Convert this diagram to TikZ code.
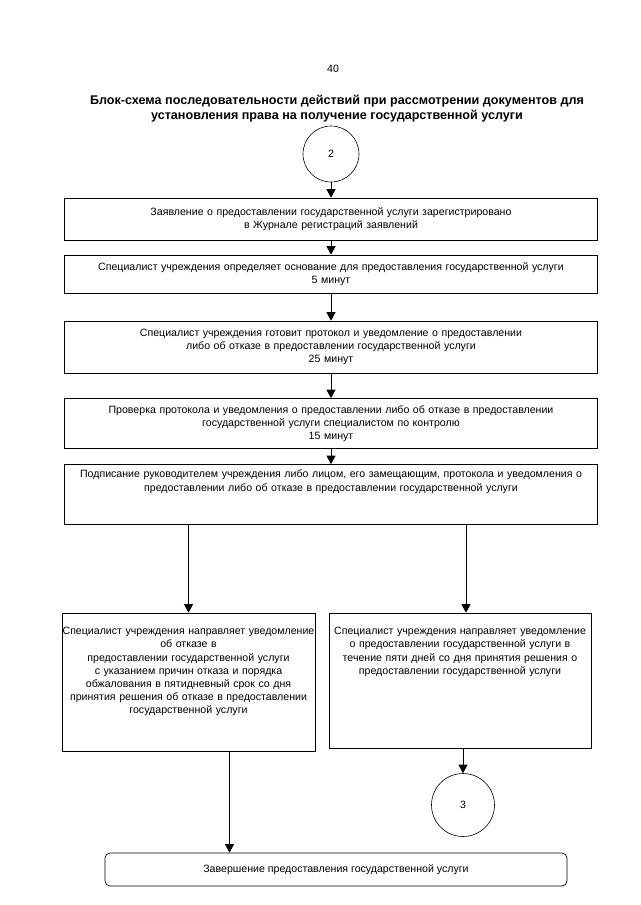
\documentclass[tikz,border=0pt]{standalone}
\usepackage{fontspec}
\setmainfont{Liberation Sans}
\usetikzlibrary{arrows.meta,calc}
\tikzset{
  x=1pt,y=-1pt,
  every node/.style={font=\fontsize{10.6}{13.2}\selectfont},
  box/.style={draw,line width=0.7pt,rectangle,inner sep=0pt,align=center},
  txt/.style={inner sep=0pt,align=center,anchor=north},
  circ/.style={draw,line width=0.6pt,circle,inner sep=0pt},
  arr/.style={line width=0.7pt,-{Triangle[width=9pt,length=8.5pt]}},
  ttl/.style={font=\bfseries\fontsize{12.6}{15.5}\selectfont,align=center,inner sep=0pt}
}
\begin{document}
\begin{tikzpicture}
\useasboundingbox[fill=white] (0,0) rectangle (640,905);
\node[inner sep=0pt] (pg) at (333,69) {40};
\node[ttl] (title) at (337,108.5) {Блок-схема последовательности действий при рассмотрении документов для\\установления права на получение государственной услуги};
\node[circ,minimum size=56pt] (c2) at (331,154) {2};
\node[box,minimum width=533pt,minimum height=42pt,text width=525pt] (b1) at (331,219) {Заявление о предоставлении государственной услуги зарегистрировано\\в Журнале регистраций заявлений};
\node[box,minimum width=533pt,minimum height=38pt,text width=525pt] (b2) at (331,274) {Специалист учреждения определяет основание для предоставления государственной услуги\\5 минут};
\node[box,minimum width=533pt,minimum height=52pt,text width=525pt] (b3) at (331,347) {Специалист учреждения готовит протокол и уведомление о предоставлении\\либо об отказе в предоставлении государственной услуги\\25 минут};
\node[box,minimum width=533pt,minimum height=50pt,text width=525pt] (b4) at (331,423.5) {Проверка протокола и уведомления о предоставлении либо об отказе в предоставлении\\государственной услуги специалистом по контролю\\15 минут};
\node[box,minimum width=533pt,minimum height=60pt] (b5) at (331,494.5) {};
\node[txt,text width=525pt] (t5) at (331,470) {Подписание руководителем учреждения либо лицом, его замещающим, протокола и уведомления о\\предоставлении либо об отказе в предоставлении государственной услуги};
\node[box,minimum width=253pt,minimum height=138pt] (L) at (188.5,682) {};
\node[txt,text width=270pt] (tL) at (188.5,627) {Специалист учреждения направляет уведомление\\об отказе в\\предоставлении государственной услуги\\с указанием причин отказа и порядка\\обжалования в пятидневный срок со дня\\принятия решения об отказе в предоставлении\\государственной услуги};
\node[box,minimum width=262pt,minimum height=135pt] (R) at (460,680.5) {};
\node[txt,text width=275pt] (tR) at (460,627) {Специалист учреждения направляет уведомление\\о предоставлении государственной услуги в\\течение пяти дней со дня принятия решения о\\предоставлении государственной услуги};
\node[circ,minimum size=63pt] (c3) at (463,805) {3};
\node[box,rounded corners=5pt,minimum width=462pt,minimum height=33pt] (F) at (336,869.5) {Завершение предоставления государственной услуги};
\coordinate (rtop) at ([xshift=6pt]R.north);
\coordinate (lbot) at ([xshift=41pt]L.south);
\draw[arr] (c2.south) -- (c2.south |- b1.north);
\draw[arr] (b1.south -| c2) -- (b2.north -| c2);
\draw[arr] (b2.south -| c2) -- (b3.north -| c2);
\draw[arr] (b3.south -| c2) -- (b4.north -| c2);
\draw[arr] (b4.south -| c2) -- (b5.north -| c2);
\draw[arr] (b5.south -| L.north) -- (L.north);
\draw[arr] (b5.south -| rtop) -- (rtop);
\draw[arr] (c3.north |- R.south) -- (c3.north);
\draw[arr] (lbot) -- (lbot |- F.north);
\end{tikzpicture}
\end{document}
